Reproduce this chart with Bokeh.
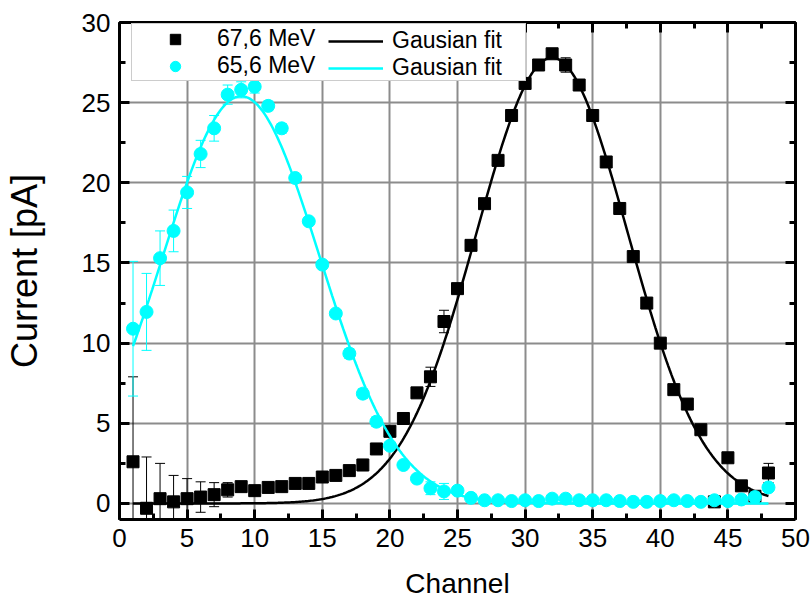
import numpy as np
from bokeh.plotting import figure
from bokeh.models import (ColumnDataSource, Range1d, LinearAxis, SingleIntervalTicker,
                          Legend, LegendItem, CustomJSTickFormatter)
from bokeh.embed import file_html
from bokeh.resources import INLINE

# Beam profile across the detector channels for two beam energies
channel = list(range(1, 49))

current_676 = [2.6, -0.3, 0.3, 0.1, 0.3, 0.4, 0.55, 0.85, 1.05, 0.8, 1.0, 1.05, 1.25, 1.25,
               1.65, 1.75, 2.05, 2.4, 3.4, 4.5, 5.3, 6.9, 7.9, 11.35, 13.4, 16.1, 18.7, 21.4,
               24.2, 26.2, 27.35, 28.05, 27.35, 26.1, 24.2, 21.3, 18.4, 15.4, 12.5, 10.0, 7.1,
               6.2, 4.6, 0.1, 2.85, 1.1, 0.45, 1.9]
err_676 = [5.3, 3.2, 2.2, 1.65, 1.25, 0.95, 0.75, 0.45, 0.3, 0.25, 0.2, 0.2, 0.2, 0.2,
           0.25, 0.2, 0.3, 0.35, 0.2, 0.2, 0.2, 0.2, 0.6, 0.7, 0.3, 0.2, 0.2, 0.2,
           0.2, 0.2, 0.2, 0.2, 0.45, 0.2, 0.2, 0.2, 0.2, 0.2, 0.2, 0.2, 0.2,
           0.2, 0.2, 0.3, 0.2, 0.2, 0.3, 0.6]

current_656 = [10.9, 11.95, 15.3, 17.0, 19.4, 21.8, 23.4, 25.5, 25.8, 26.0, 24.8, 23.4, 20.3,
               17.6, 14.9, 11.85, 9.35, 6.85, 5.1, 3.6, 2.4, 1.55, 0.95, 0.75, 0.8, 0.35,
               0.2, 0.2, 0.15, 0.2, 0.15, 0.3, 0.3, 0.2, 0.2, 0.2, 0.15, 0.1, 0.1, 0.15,
               0.2, 0.15, 0.1, 0.2, 0.15, 0.25, 0.4, 1.0]
err_656 = [4.2, 2.4, 1.7, 1.3, 1.0, 0.85, 0.8, 0.6, 0.5, 0.4, 0.3, 0.3, 0.2,
           0.2, 0.2, 0.2, 0.3, 0.3, 0.3, 0.2, 0.2, 0.2, 0.4, 0.5, 0.2, 0.1,
           0.1, 0.1, 0.1, 0.1, 0.1, 0.1, 0.1, 0.1, 0.1, 0.1, 0.1, 0.1, 0.1, 0.1,
           0.1, 0.1, 0.1, 0.2, 0.1, 0.1, 0.3, 0.2]

# Gaussian fit parameters: amplitude [pA], centre [channel], sigma [channel]
fit_676 = dict(amp=27.8, xc=32.0, sigma=5.6)
fit_656 = dict(amp=25.4, xc=9.0, sigma=5.8)

labels_energy = ["67,6 MeV", "65,6 MeV"]
label_fit = "Gausian fit"

FONT = "Liberation Sans"
CYAN = "#00FFFF"
GRID = "#8c8c8c"


def gaussian(params, x):
    return params["amp"] * np.exp(-(x - params["xc"]) ** 2 / (2 * params["sigma"] ** 2))


def series_source(y, e):
    return ColumnDataSource(dict(
        x=channel, y=y,
        lo=[v - d for v, d in zip(y, e)],
        hi=[v + d for v, d in zip(y, e)],
    ))


p = figure(width=812, height=607, output_backend="svg", toolbar_location=None,
           x_range=Range1d(0, 50), y_range=Range1d(-1, 30),
           min_border_left=118, min_border_right=17, min_border_top=22, min_border_bottom=88,
           x_axis_label="Channel", y_axis_label="Current [pA]")
p.outline_line_color = None
p.background_fill_color = "white"
p.border_fill_color = "white"

x_ticker = SingleIntervalTicker(interval=5, num_minor_ticks=2)
y_ticker = SingleIntervalTicker(interval=5, num_minor_ticks=2)

for ax in p.xaxis:
    ax.ticker = x_ticker
for ax in p.yaxis:
    ax.ticker = y_ticker
p.xgrid.ticker = x_ticker
p.ygrid.ticker = y_ticker
for g in (p.xgrid, p.ygrid):
    g.grid_line_color = GRID
    g.grid_line_width = 2

# mirror axes on top and right carry ticks only
top_axis = LinearAxis(ticker=x_ticker, formatter=CustomJSTickFormatter(code="return ''"))
right_axis = LinearAxis(ticker=y_ticker, formatter=CustomJSTickFormatter(code="return ''"))
p.add_layout(top_axis, "above")
p.add_layout(right_axis, "right")

for ax in p.axis:
    ax.axis_line_width = 3
    ax.axis_line_color = "black"
    ax.major_tick_in = 10
    ax.major_tick_out = 0
    ax.minor_tick_in = 6
    ax.minor_tick_out = 0
    ax.major_tick_line_width = 3
    ax.minor_tick_line_width = 3
    ax.major_tick_line_color = "black"
    ax.minor_tick_line_color = "black"
    ax.major_label_text_font = FONT
    ax.major_label_text_color = "black"
    ax.axis_label_text_font = FONT
    ax.axis_label_text_font_style = "normal"
    ax.axis_label_text_color = "black"

for ax in (top_axis, right_axis):
    ax.major_label_text_font_size = "8px"
    ax.major_label_standoff = 0

bottom = p.below[0]
left = p.left[0]
bottom.major_label_text_font_size = "26px"
bottom.major_label_standoff = 9
bottom.axis_label_text_font_size = "28px"
bottom.axis_label_standoff = 18
left.major_label_text_font_size = "26px"
left.major_label_standoff = 9
left.axis_label_text_font_size = "36px"
left.axis_label_standoff = 34

src_a = series_source(current_676, err_676)
src_b = series_source(current_656, err_656)

fit_x = np.linspace(1, 48, 400)

# 67,6 MeV: error bars, points, fit
p.segment(x0="x", y0="lo", x1="x", y1="hi", source=src_a, line_color="black", line_width=1)
p.scatter(x="x", y="lo", source=src_a, marker="dash", size=10, line_color="black", line_width=1)
p.scatter(x="x", y="hi", source=src_a, marker="dash", size=10, line_color="black", line_width=1)
sq = p.scatter(x="x", y="y", source=src_a, marker="square", size=12,
               fill_color="black", line_color="black")
line_a = p.line(fit_x, gaussian(fit_676, fit_x), line_color="black", line_width=2.5)

# 65,6 MeV: error bars, points, fit
p.segment(x0="x", y0="lo", x1="x", y1="hi", source=src_b, line_color=CYAN, line_width=1)
p.scatter(x="x", y="lo", source=src_b, marker="dash", size=10, line_color=CYAN, line_width=1)
p.scatter(x="x", y="hi", source=src_b, marker="dash", size=10, line_color=CYAN, line_width=1)
circ = p.scatter(x="x", y="y", source=src_b, marker="circle", size=13,
                 fill_color=CYAN, line_color=CYAN)
line_b = p.line(fit_x, gaussian(fit_656, fit_x), line_color=CYAN, line_width=2.5)

common = dict(label_text_font=FONT, label_text_font_size="23px", label_text_color="black",
              glyph_height=26, label_height=26, padding=1, spacing=0, margin=0,
              click_policy="none")

# the legend sits against the top edge of the frame
legend_points = Legend(
    items=[LegendItem(label=labels_energy[0], renderers=[sq]),
           LegendItem(label=labels_energy[1], renderers=[circ])],
    location=(12, 438), glyph_width=84, label_standoff=0, label_width=307,
    border_line_color="#9a9a9a", border_line_width=1.5,
    background_fill_color="white", background_fill_alpha=1.0, **common)

legend_fits = Legend(
    items=[LegendItem(label=label_fit, renderers=[line_a]),
           LegendItem(label=label_fit, renderers=[line_b])],
    location=(209, 438), glyph_width=55, label_standoff=9,
    border_line_color=None, background_fill_alpha=0.0, **common)

p.add_layout(legend_points)
p.add_layout(legend_fits)

open("out.html", "w").write(file_html(p, INLINE))
